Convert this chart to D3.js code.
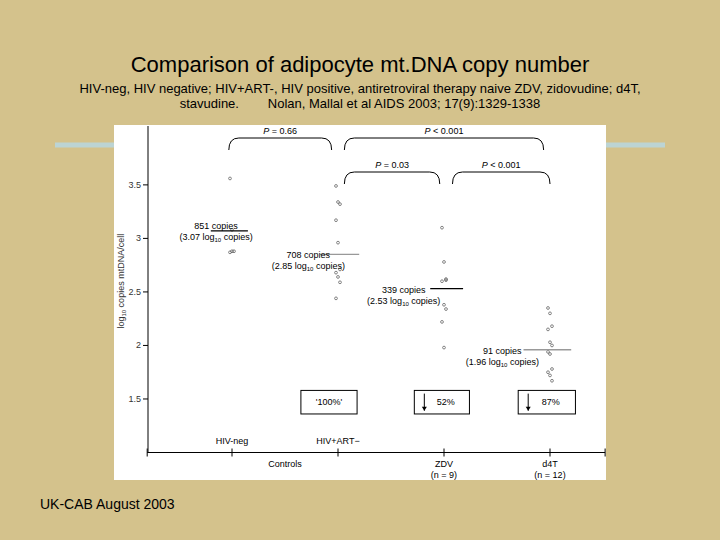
<!DOCTYPE html>
<html>
<head>
<meta charset="utf-8">
<style>
body{margin:0;background:#d4c28c;}
svg text{font-family:"Liberation Sans",Arial,sans-serif;}
</style>
</head>
<body>
<svg id="chart" width="720" height="540"></svg>
<script src="https://d3js.org/d3.v7.min.js"></script>
<script>
var groups = ["HIV-neg","HIV+ART\u2212","ZDV","d4T"];
var groupPos = [1,2,3,4];
var hivNeg = [3.56,3.08,2.88,2.87,2.88];
var hivArt = [3.49,3.34,3.32,3.17,2.96,2.71,2.68,2.64,2.59,2.44];
var zdv = [3.10,2.78,2.62,2.60,2.38,2.34,2.22,1.98,2.61];
var d4t = [2.35,2.30,2.18,2.15,2.03,2.00,1.94,1.92,1.78,1.75,1.72,1.67];
var means = [3.07,2.85,2.53,1.96];
var meanText = ["851 copies","708 copies","339 copies","91 copies"];
var meanLog = ["3.07","2.85","2.53","1.96"];
var meanColor = ["#000","#999","#000","#999"];
var yTicks = [1.5,2,2.5,3,3.5];
var boxLabels = ["'100%'","52%","87%"];

var svg = d3.select("#chart");

svg.append("text").attr("x",360).attr("y",72).attr("text-anchor","middle")
	.attr("font-size",22).text("Comparison of adipocyte mt.DNA copy number");
svg.append("text").attr("x",360).attr("y",93).attr("text-anchor","middle")
	.attr("font-size",13).text("HIV-neg, HIV negative; HIV+ART-, HIV positive, antiretroviral therapy naive ZDV, zidovudine; d4T,");
svg.append("text").attr("x",360).attr("y",108).attr("text-anchor","middle")
	.attr("font-size",13).attr("xml:space","preserve").text("stavudine.        Nolan, Mallal et al AIDS 2003; 17(9):1329-1338");
svg.append("text").attr("x",40).attr("y",509).attr("font-size",14).text("UK-CAB August 2003");

svg.append("line").attr("x1",55).attr("x2",665).attr("y1",145).attr("y2",145)
	.attr("stroke","#bcd4d4").attr("stroke-width",5);
svg.append("rect").attr("x",114).attr("y",125).attr("width",492).attr("height",355).attr("fill","#fff");

var x = d3.scaleLinear().domain([1,4]).range([232,550]);
var y = d3.scaleLinear().domain([1,4.05]).range([452.5,126]);
var g = svg.append("g").attr("font-size",9);

// y axis
g.append("line").attr("x1",148).attr("x2",148).attr("y1",126).attr("y2",y(1)).attr("stroke","#000");
yTicks.forEach(function(t){
	g.append("line").attr("x1",143).attr("x2",148).attr("y1",y(t)).attr("y2",y(t)).attr("stroke","#000");
	g.append("text").attr("x",141).attr("y",y(t)+3).attr("text-anchor","end").attr("fill","#333").text(t);
});
var yl = g.append("text").attr("transform","translate(124,"+y(2.6)+") rotate(-90)").attr("text-anchor","middle").attr("fill","#333");
yl.append("tspan").text("log");
yl.append("tspan").attr("font-size",6).attr("dy",2).text("10");
yl.append("tspan").attr("dy",-2).text(" copies mtDNA/cell");

// x axis
g.append("line").attr("x1",x(0.2)).attr("x2",x(4.52)).attr("y1",y(1)).attr("y2",y(1)).attr("stroke","#000");
[0.2].concat(groupPos).concat([4.52]).forEach(function(p){
	g.append("line").attr("x1",x(p)).attr("x2",x(p)).attr("y1",y(1)-4).attr("y2",y(1)+4).attr("stroke","#000");
});
g.append("text").attr("x",x(1)).attr("y",y(1)-9).attr("text-anchor","middle").text(groups[0]);
g.append("text").attr("x",x(2)).attr("y",y(1)-9).attr("text-anchor","middle").text(groups[1]);
g.append("text").attr("x",x(1.5)).attr("y",y(1)+14).attr("text-anchor","middle").text("Controls");
g.append("text").attr("x",x(3)).attr("y",y(1)+14).attr("text-anchor","middle").text(groups[2]);
g.append("text").attr("x",x(3)).attr("y",y(1)+25).attr("text-anchor","middle").text("(n = 9)");
g.append("text").attr("x",x(4)).attr("y",y(1)+14).attr("text-anchor","middle").text(groups[3]);
g.append("text").attr("x",x(4)).attr("y",y(1)+25).attr("text-anchor","middle").text("(n = 12)");

// points
[hivNeg,hivArt,zdv,d4t].forEach(function(arr,gi){
	g.selectAll(null).data(arr).enter().append("circle")
		.attr("cx",function(d,i){ return x(groupPos[gi]) + ((i%3)-1)*2; })
		.attr("cy",function(d){ return y(d); })
		.attr("r",1.4).attr("fill","none").attr("stroke","#555").attr("stroke-width",0.7);
});

// means
var mx = [[-0.2,0.15],[-0.17,0.2],[-0.13,0.18],[-0.25,0.2]];
var tx = [[-0.35,0,"end"],[-0.3,0,"end"],[-0.18,0,"end"],[-0.35,0,"end"]];
means.forEach(function(m,i){
	g.append("line").attr("x1",x(groupPos[i]+mx[i][0])).attr("x2",x(groupPos[i]+mx[i][1]))
		.attr("y1",y(m)).attr("y2",y(m)).attr("stroke",meanColor[i]).attr("stroke-width",1.3);
	var cx = x(groupPos[i]-0.45);
	if(i==0) cx = x(0.85);
	if(i==1) cx = x(1.72);
	if(i==2) cx = x(2.62);
	if(i==3) cx = x(3.55);
	var ty = y(m) + (i==0 ? -2 : 4);
	g.append("text").attr("x",cx).attr("y",ty).attr("text-anchor","middle").text(meanText[i]);
	var t2 = g.append("text").attr("x",cx).attr("y",ty+11).attr("text-anchor","middle");
	t2.append("tspan").text("("+meanLog[i]+" log");
	t2.append("tspan").attr("font-size",6).attr("dy",2).text("10");
	t2.append("tspan").attr("dy",-2).text(" copies)");
});

// brackets
var brackets = [[0.97,1.94,138,"P = 0.66"],[2.06,3.94,138,"P < 0.001"],[2.06,2.96,172,"P = 0.03"],[3.08,4.0,172,"P < 0.001"]];
brackets.forEach(function(b){
	var x1 = x(b[0]), x2 = x(b[1]), yy = b[2];
	g.append("path").attr("fill","none").attr("stroke","#000")
		.attr("d","M"+x1+","+(yy+12)+" Q"+x1+","+yy+" "+(x1+10)+","+yy+" L"+(x2-10)+","+yy+" Q"+x2+","+yy+" "+x2+","+(yy+12));
	var lt = g.append("text").attr("x",(x1+x2)/2).attr("y",yy-4).attr("text-anchor","middle");
	lt.append("tspan").attr("font-style","italic").text("P");
	lt.append("tspan").text(b[3].slice(1));
});

// boxes
var boxX = [[1.65,2.18],[2.72,3.24],[3.7,4.24]];
boxX.forEach(function(bx,i){
	g.append("rect").attr("x",x(bx[0])).attr("y",y(1.58)).attr("width",x(bx[1])-x(bx[0]))
		.attr("height",y(1.36)-y(1.58)).attr("fill","#fff").attr("stroke","#000");
	var c = (x(bx[0])+x(bx[1]))/2;
	g.append("text").attr("x",c+(i?4:0)).attr("y",y(1.47)+3).attr("text-anchor","middle").text(boxLabels[i]);
	if(i){
		var ax = x(bx[0])+10;
		g.append("line").attr("x1",ax).attr("x2",ax).attr("y1",y(1.55)).attr("y2",y(1.39)).attr("stroke","#000");
		g.append("path").attr("d","M"+(ax-2.5)+","+(y(1.39)-4)+" L"+ax+","+y(1.39)+" L"+(ax+2.5)+","+(y(1.39)-4)+"Z");
	}
});
</script>
</body>
</html>
